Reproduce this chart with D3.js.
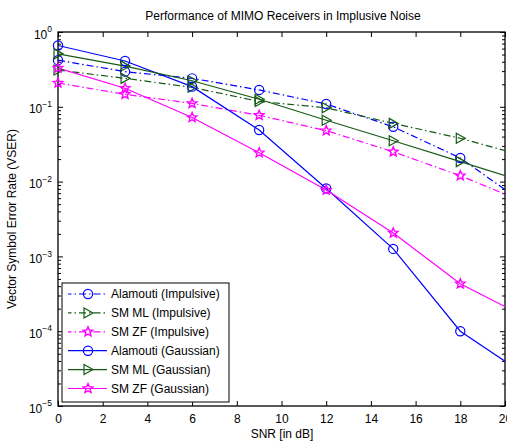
<!DOCTYPE html>
<html><head><meta charset="utf-8">
<script src="https://cdn.jsdelivr.net/npm/d3@7"></script>
<style>
body{margin:0;background:#fff;}
text{font-family:"Liberation Sans",Arial,sans-serif;fill:#000;}
</style></head>
<body><svg id="c" width="507" height="442"></svg>
<script>
const snr = [0, 3, 6, 9, 12, 15, 18, 21];
const alamoutiImp = [0.42, 0.295, 0.24, 0.168, 0.109, 0.054, 0.0207, 0.0048];
const smMLImp     = [0.31, 0.24, 0.182, 0.118, 0.097, 0.06, 0.038, 0.0214];
const smZFImp     = [0.208, 0.147, 0.111, 0.077, 0.048, 0.025, 0.012, 0.0051];
const alamoutiGau = [0.66, 0.41, 0.186, 0.049, 0.0081, 0.00126, 0.0001, 0.000025];
const smMLGau     = [0.51, 0.35, 0.223, 0.126, 0.066, 0.0352, 0.0185, 0.0097];
const smZFGau     = [0.33, 0.177, 0.072, 0.0243, 0.0077, 0.00206, 0.00043, 0.00015];
const xTicks = [0, 2, 4, 6, 8, 10, 12, 14, 16, 18, 20];
const yTicks = [1e-5, 1e-4, 1e-3, 1e-2, 1e-1, 1];
const yExps  = [-5, -4, -3, -2, -1, 0];
const title = "Performance of MIMO Receivers in Implusive Noise";
const xLabel = "SNR [in dB]";
const yLabel = "Vector Symbol Error Rate (VSER)";

const series = [
  {name:"Alamouti (Impulsive)", vals:alamoutiImp, color:"#0000ff", dash:true, marker:"circle"},
  {name:"SM ML (Impulsive)", vals:smMLImp, color:"#145a14", dash:true, marker:"tri"},
  {name:"SM ZF (Impulsive)", vals:smZFImp, color:"#ff00ff", dash:true, marker:"star"},
  {name:"Alamouti (Gaussian)", vals:alamoutiGau, color:"#0000ff", dash:false, marker:"circle"},
  {name:"SM ML (Gaussian)", vals:smMLGau, color:"#145a14", dash:false, marker:"tri"},
  {name:"SM ZF (Gaussian)", vals:smZFGau, color:"#ff00ff", dash:false, marker:"star"}
];

const FS = "12px";
const L=58, R=505, T=32, B=406;
const svg = d3.select("#c");
const x = d3.scaleLinear().domain([0,20]).range([L,R]);
const y = d3.scaleLog().domain([1e-5,1]).range([B,T]);

svg.append("defs").append("clipPath").attr("id","clip")
  .append("rect").attr("x",L).attr("y",T).attr("width",R-L).attr("height",B-T);

const minor = [];
for (let e=-5; e<0; e++) for (let m=2; m<10; m++) minor.push(m*Math.pow(10,e));

const gx = svg.append("g").attr("transform",`translate(0,${B})`)
  .call(d3.axisBottom(x).tickValues(xTicks).tickSizeInner(-5).tickSizeOuter(0).tickPadding(8).tickFormat(d3.format("d")));
gx.select(".domain").remove();
gx.selectAll("text").attr("font-size",FS).attr("font-family","Liberation Sans, Arial, sans-serif");
const gxt = svg.append("g").attr("transform",`translate(0,${T})`)
  .call(d3.axisTop(x).tickValues(xTicks).tickSizeInner(-5).tickSizeOuter(0).tickFormat(""));
gxt.select(".domain").remove();

const gy = svg.append("g").attr("transform",`translate(${L},0)`)
  .call(d3.axisLeft(y).tickValues(yTicks).tickSizeInner(-5).tickSizeOuter(0).tickFormat(""));
gy.select(".domain").remove();
gy.selectAll(".tick").each(function(d){
  const t = d3.select(this).select("text")
    .attr("font-size",FS).attr("font-family","Liberation Sans, Arial, sans-serif")
    .attr("x",-6).attr("dy","0.5em").attr("text-anchor","end");
  t.append("tspan").text("10");
  t.append("tspan").attr("font-size","8.5px").attr("dy","-0.75em").text(String(yExps[yTicks.indexOf(d)]).replace("-","\u2212"));
});
const gyr = svg.append("g").attr("transform",`translate(${R},0)`)
  .call(d3.axisRight(y).tickValues(yTicks).tickSizeInner(-5).tickSizeOuter(0).tickFormat(""));
gyr.select(".domain").remove();
const gym = svg.append("g").attr("transform",`translate(${L},0)`)
  .call(d3.axisLeft(y).tickValues(minor).tickSizeInner(-3).tickSizeOuter(0).tickFormat(""));
gym.select(".domain").remove();
const gymr = svg.append("g").attr("transform",`translate(${R},0)`)
  .call(d3.axisRight(y).tickValues(minor).tickSizeInner(-3).tickSizeOuter(0).tickFormat(""));
gymr.select(".domain").remove();
svg.selectAll(".tick line").attr("stroke","#000");

svg.append("rect").attr("x",L).attr("y",T).attr("width",R-L).attr("height",B-T)
  .attr("fill","none").attr("stroke","#000").attr("stroke-width",1.3);

const starPath = (r)=>{
  let p=""; for(let k=0;k<10;k++){const a=-Math.PI/2+k*Math.PI/5; const rr=k%2?r*0.45:r; p+=(k?"L":"M")+(rr*Math.cos(a)).toFixed(2)+","+(rr*Math.sin(a)).toFixed(2);} return p+"Z";
};
function drawMarker(g, type, cx, cy, color){
  if(type==="circle") g.append("circle").attr("cx",cx).attr("cy",cy).attr("r",4.6).attr("fill","none").attr("stroke",color).attr("stroke-width",1.2);
  else if(type==="tri") g.append("path").attr("d","M-4,-5L5,0L-4,5Z").attr("transform",`translate(${cx},${cy})`).attr("fill","none").attr("stroke",color).attr("stroke-width",1.2);
  else g.append("path").attr("d",starPath(5)).attr("transform",`translate(${cx},${cy})`).attr("fill","none").attr("stroke",color).attr("stroke-width",1.4);
}

const plot = svg.append("g").attr("clip-path","url(#clip)");
const line = d3.line().x((d,i)=>x(snr[i])).y(d=>y(d));
series.forEach(s=>{
  plot.append("path").datum(s.vals).attr("d",line).attr("fill","none")
    .attr("stroke",s.color).attr("stroke-width",1.2)
    .attr("stroke-dasharray", s.dash ? "7,3,1.5,3" : null);
});
const mk = svg.append("g");
series.forEach(s=>{
  s.vals.forEach((v,i)=>{ if(snr[i]<=20) drawMarker(mk, s.marker, x(snr[i]), y(v), s.color); });
});

const lg = svg.append("g");
lg.append("rect").attr("x",62).attr("y",283).attr("width",167).attr("height",119).attr("fill","#fff").attr("stroke","#000").attr("stroke-width",1);
series.forEach((s,i)=>{
  const yy = 294 + i*18.9;
  lg.append("line").attr("x1",68).attr("x2",107).attr("y1",yy).attr("y2",yy)
    .attr("stroke",s.color).attr("stroke-width",1.2).attr("stroke-dasharray", s.dash ? "7,3,1.5,3" : null)
    .attr("stroke-dashoffset", s.dash ? 3.5 : null);
  drawMarker(lg, s.marker, 88, yy, s.color);
  lg.append("text").attr("x",111).attr("y",yy).attr("dy","0.36em").attr("font-size",FS).text(s.name);
});

svg.append("text").attr("x",283).attr("y",20).attr("text-anchor","middle").attr("font-size",FS).text(title);
svg.append("text").attr("x",282).attr("y",438).attr("text-anchor","middle").attr("font-size",FS).text(xLabel);
svg.append("text").attr("transform","translate(16,219) rotate(-90)").attr("text-anchor","middle").attr("font-size",FS).text(yLabel);
</script></body></html>
